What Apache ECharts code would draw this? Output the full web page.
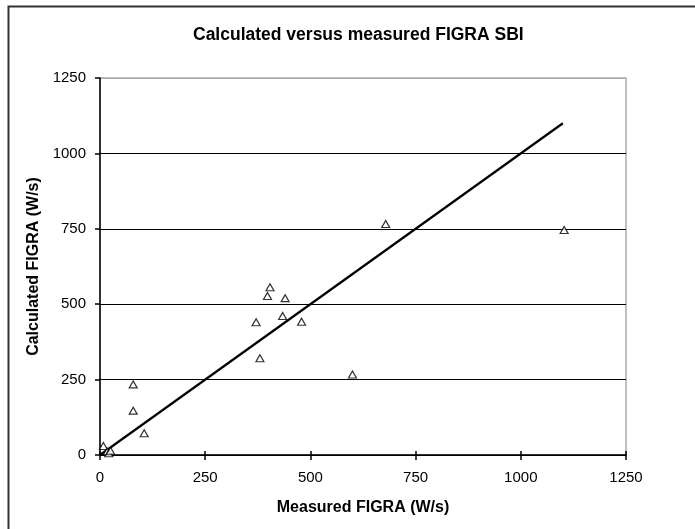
<!DOCTYPE html>
<html>
<head>
<meta charset="utf-8">
<script src="https://cdn.jsdelivr.net/npm/echarts@6/dist/echarts.min.js"></script>
<style>
html,body{margin:0;padding:0;background:#fff;}
#chart{width:695px;height:529px;}
</style>
</head>
<body>
<div id="chart"></div>
<script>
var measured   = [8, 17, 21, 25, 79, 79, 105, 371, 380, 398, 404, 434, 440, 479, 600, 679, 1103];
var calculated = [30, 12, 6, 14, 234, 147, 72, 440, 321, 527, 556, 461, 520, 442, 267, 766, 746];
var lineX = [0, 1100];
var lineY = [0, 1100];
var ticks = [0, 250, 500, 750, 1000, 1250];

var pts = measured.map(function(v, i){ return [v, calculated[i]]; });
var linePts = lineX.map(function(v, i){ return [v, lineY[i]]; });
var fmt = function(v){ return String(v); };

var chart = echarts.init(document.getElementById('chart'));
var font = 'Liberation Sans, Arial, sans-serif';
chart.setOption({
  backgroundColor: '#fff',
  animation: false,
  title: {
    text: 'Calculated versus measured FIGRA SBI',
    left: 188, top: 21,
    textStyle: {fontFamily: font, fontSize: 17.5, fontWeight: 'bold', color: '#000'}
  },
  graphic: [{
    type: 'rect', left: 6, top: 4,
    shape: {width: 720, height: 560},
    style: {fill: 'none', stroke: '#333', lineWidth: 2}
  }],
  grid: {left: 100, top: 78, width: 526, height: 377, show: true, borderColor: '#aaa', borderWidth: 1.5, backgroundColor: 'transparent'},
  xAxis: [{
    type: 'value', min: ticks[0], max: ticks[ticks.length-1], interval: 250,
    name: 'Measured FIGRA (W/s)', nameLocation: 'middle', nameGap: 45,
    nameTextStyle: {fontFamily: font, fontSize: 16, fontWeight: 'bold', color: '#000'},
    axisLine: {show: true, onZero: false, lineStyle: {color: '#000', width: 1.5}},
    axisTick: {show: true, length: 5, lineStyle: {color: '#000', width: 1.5}},
    axisLabel: {fontFamily: font, fontSize: 15, color: '#000', margin: 15, formatter: fmt},
    splitLine: {show: false}
  }, {
    type: 'value', min: ticks[0], max: ticks[ticks.length-1], interval: 250, position: 'bottom',
    axisLine: {show: false},
    axisTick: {show: true, inside: true, length: 4, lineStyle: {color: '#000', width: 1.5}},
    axisLabel: {show: false},
    splitLine: {show: false}
  }],
  yAxis: {
    type: 'value', min: ticks[0], max: ticks[ticks.length-1], interval: 250,
    name: 'Calculated FIGRA (W/s)', nameLocation: 'middle', nameGap: 58,
    nameTextStyle: {fontFamily: font, fontSize: 16, fontWeight: 'bold', color: '#000'},
    axisLine: {show: true, onZero: false, lineStyle: {color: '#000', width: 1.5}},
    axisTick: {show: true, length: 5, lineStyle: {color: '#000', width: 1.5}},
    axisLabel: {fontFamily: font, fontSize: 15, color: '#000', margin: 14, formatter: fmt},
    splitLine: {show: true, lineStyle: {color: ['#000','#000','#000','#000','#000','#aaa'], width: 1.2}}
  },
  series: [{
    type: 'line', data: linePts, symbol: 'none',
    lineStyle: {color: '#000', width: 2.2}, z: 3
  }, {
    type: 'scatter', data: pts, symbol: 'triangle', symbolSize: [8, 7],
    itemStyle: {color: '#fff', borderColor: '#000', borderWidth: 1.2}, z: 4
  }]
});
</script>
</body>
</html>
